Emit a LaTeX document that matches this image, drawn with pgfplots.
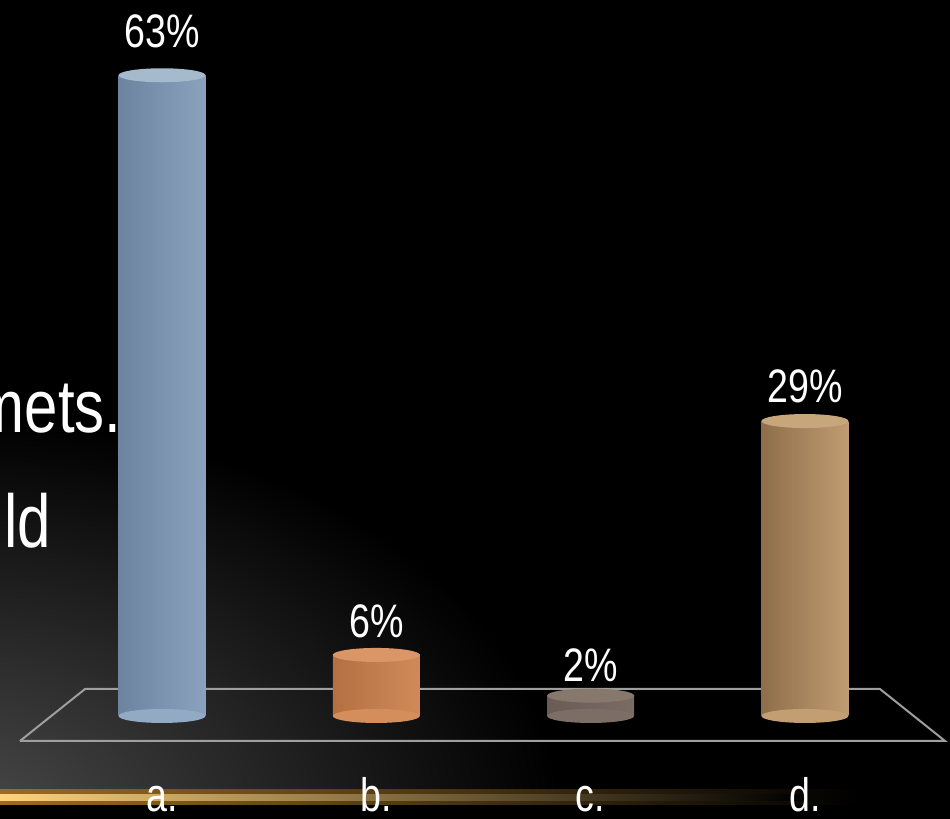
\documentclass[border=0pt]{standalone}
\usepackage{pgfplots}
\pgfplotsset{compat=1.18}
\usepackage{fontspec}
\setmainfont[FakeStretch=0.8]{Liberation Sans}
\definecolor{aL}{HTML}{6C849F}\definecolor{aM}{HTML}{ABC3DA}\definecolor{aR}{HTML}{8AA2BD}\definecolor{aC}{HTML}{A6BACE}\definecolor{aB}{HTML}{92AAC4}
\definecolor{bL}{HTML}{B47042}\definecolor{bM}{HTML}{ECA674}\definecolor{bR}{HTML}{D08A5A}\definecolor{bC}{HTML}{DA9666}\definecolor{bB}{HTML}{D48E5C}
\definecolor{cL}{HTML}{685C54}\definecolor{cM}{HTML}{8E7E74}\definecolor{cR}{HTML}{7A6C64}\definecolor{cC}{HTML}{87786E}\definecolor{cB}{HTML}{7C6E65}
\definecolor{dL}{HTML}{8E6E4A}\definecolor{dM}{HTML}{D8B386}\definecolor{dR}{HTML}{C09C72}\definecolor{dC}{HTML}{C8A67C}\definecolor{dB}{HTML}{C29E72}
\definecolor{gold}{HTML}{FFD47C}\definecolor{golddim}{HTML}{9A6C24}\definecolor{glow}{HTML}{4A4A4A}
\pgfdeclareplotmark{cyl}{\pgfpathellipse{\pgfpointorigin}{\pgfqpoint{21.75pt}{0pt}}{\pgfqpoint{0pt}{3.5pt}}\pgfusepathqfill}
\begin{document}
\begin{tikzpicture}
\useasboundingbox (0,0) rectangle (475pt,409.5pt);
\fill[black] (0,0) rectangle (475pt,409.5pt);
\begin{scope}
\clip (0,0) rectangle (475pt,409.5pt);
\shade[inner color=glow, outer color=black] (-20pt,0pt) ellipse (300pt and 200pt);
\fill[black] (0,0) rectangle (475pt,7pt);
\shade[left color=golddim, right color=black] (0,7pt) rectangle (430pt,14.5pt);
\shade[left color=gold, right color=black] (0,9.2pt) rectangle (400pt,12pt);
\node[anchor=base east, text=white, font=\fontsize{37.5}{40}\selectfont, inner sep=0pt] at (61pt,193pt) {mets.};
\node[anchor=base west, text=white, font=\fontsize{37.5}{40}\selectfont, inner sep=0pt] at (2pt,135.5pt) {ld};
\end{scope}
\begin{axis}[
  at={(0,0)}, anchor=south west,
  width=475pt, height=409.5pt, scale only axis,
  xmin=-0.756, xmax=3.677, ymin=-10.13, ymax=70.4,
  axis line style={draw=none}, major tick length=0pt,
  xtick={0,1,2,3}, xticklabels={a.,b.,c.,d.},
  ytick=\empty,
  /pgf/number format/assume math mode=true,
  xticklabel style={anchor=base, yshift=3.5pt, text=white, font=\fontsize{23.5}{26}\selectfont},
  clip=false,
]
\addplot[draw=gray!75, line width=1pt] coordinates {(-0.663,-2.46) (-0.359,2.655) (3.350,2.655) (3.654,-2.46) (-0.663,-2.46)};
% a
\addplot[only marks, mark=cyl, mark options={fill=aB, draw=none}] coordinates {(0,0)};
\addplot[ybar, bar width=0.406, bar shift=0pt, draw=none, left color=aL, middle color=aM, right color=aR,
  nodes near coords={\pgfmathprintnumber{\pgfplotspointmeta}\%},
  nodes near coords style={anchor=base, yshift=14pt, text=white, font=\fontsize{23.5}{26}\selectfont}] coordinates {(0,63)};
\addplot[only marks, mark=cyl, mark options={fill=aC, draw=none}] coordinates {(0,63)};
% b
\addplot[only marks, mark=cyl, mark options={fill=bB, draw=none}] coordinates {(1,0)};
\addplot[ybar, bar width=0.406, bar shift=0pt, draw=none, left color=bL, middle color=bM, right color=bR,
  nodes near coords={\pgfmathprintnumber{\pgfplotspointmeta}\%},
  nodes near coords style={anchor=base, yshift=8.5pt, text=white, font=\fontsize{23.5}{26}\selectfont}] coordinates {(1,6)};
\addplot[only marks, mark=cyl, mark options={fill=bC, draw=none}] coordinates {(1,6)};
% c
\addplot[only marks, mark=cyl, mark options={fill=cB, draw=none}] coordinates {(2,0)};
\addplot[ybar, bar width=0.406, bar shift=0pt, draw=none, left color=cL, middle color=cM, right color=cR,
  nodes near coords={\pgfmathprintnumber{\pgfplotspointmeta}\%},
  nodes near coords style={anchor=base, yshift=7pt, text=white, font=\fontsize{23.5}{26}\selectfont}] coordinates {(2,2)};
\addplot[only marks, mark=cyl, mark options={fill=cC, draw=none}] coordinates {(2,2)};
% d
\addplot[only marks, mark=cyl, mark options={fill=dB, draw=none}] coordinates {(3,0)};
\addplot[ybar, bar width=0.406, bar shift=0pt, draw=none, left color=dL, middle color=dM, right color=dR,
  nodes near coords={\pgfmathprintnumber{\pgfplotspointmeta}\%},
  nodes near coords style={anchor=base, yshift=9.5pt, text=white, font=\fontsize{23.5}{26}\selectfont}] coordinates {(3,29)};
\addplot[only marks, mark=cyl, mark options={fill=dC, draw=none}] coordinates {(3,29)};
\end{axis}
\end{tikzpicture}
\end{document}
